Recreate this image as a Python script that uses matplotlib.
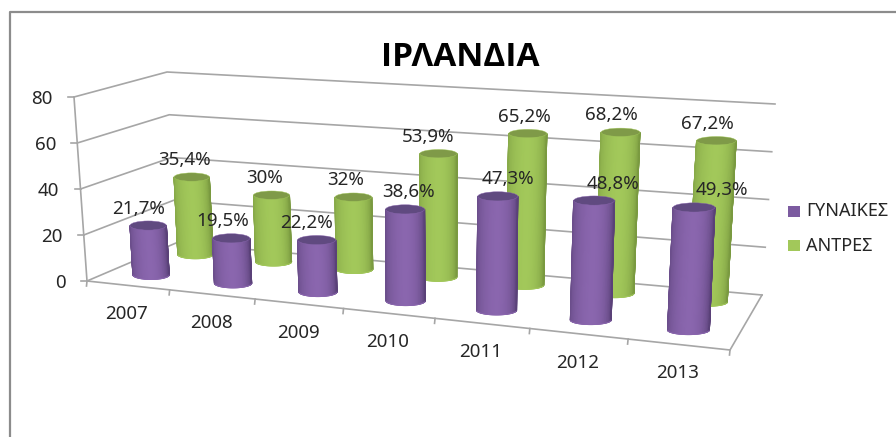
import numpy as np
import matplotlib
matplotlib.use('Agg')
import matplotlib.pyplot as plt
from matplotlib.colors import LinearSegmentedColormap
from matplotlib.patches import Ellipse, Rectangle

plt.rcParams['font.family'] = ['Noto Sans', 'DejaVu Sans']

years = ['2007', '2008', '2009', '2010', '2011', '2012', '2013']
women = [21.7, 19.5, 22.2, 38.6, 47.3, 48.8, 49.3]
men = [35.4, 30, 32, 53.9, 65.2, 68.2, 67.2]
women_labels = ['21,7%', '19,5%', '22,2%', '38,6%', '47,3%', '48,8%', '49,3%']
men_labels = ['35,4%', '30%', '32%', '53,9%', '65,2%', '68,2%', '67,2%']
y_ticks = [0, 20, 40, 60, 80]

# label nudges, px from the top of each cylinder
women_dx = [-10, -9, -10, 3, 10, 19, 28]
men_dx = [-7, -7, -8, -10, -3, -9, -9]

PURPLE_LIGHT, PURPLE_DARK, PURPLE_TOP = '#8a66ae', '#5a4178', '#604a80'
GREEN_LIGHT, GREEN_DARK, GREEN_TOP = '#a2c85a', '#7a9a40', '#7f9a48'
GRID = '#a6a6a6'
TEXT = '#262626'

# corners of the plot box in pixels, floor and value 80
FL, FR, BR, BL = np.array([87, 281.]), np.array([730, 350.]), np.array([762, 295.]), np.array([176, 243.])
FL_T, FR_T, BR_T, BL_T = np.array([74, 97.]), np.array([740, 146.]), np.array([775, 104.]), np.array([167, 72.])


def warp(u):
    # perspective along the category axis
    s = u / len(years)
    return 0.885 * s / (1 - 0.115 * s)


def project(u, d, v):
    t = warp(u)
    floor = (1 - d) * ((1 - t) * FL + t * FR) + d * ((1 - t) * BL + t * BR)
    top = (1 - d) * ((1 - t) * FL_T + t * FR_T) + d * ((1 - t) * BL_T + t * BR_T)
    return floor + (top - floor) * v / 80


def cylinder(u, d, v, light, dark, top_col, w, h, z):
    p0 = project(u, d, 0)
    p1 = project(u, d, v)
    angles = np.linspace(np.pi, 0, 61)
    X = np.array([p0[0] + w * np.cos(angles), p1[0] + w * np.cos(angles)])
    Y = np.array([p0[1] + h * np.sin(angles), p1[1] + h * np.sin(angles)])
    # light falls slightly left of centre, right edge is the darkest
    k = (1 - np.sin(angles) ** 1.3) * (0.825 + 0.175 * np.cos(angles))
    cmap = LinearSegmentedColormap.from_list('shade', [light, dark])
    ax.pcolormesh(X, Y, np.array([k, k]), cmap=cmap, vmin=0, vmax=1, shading='gouraud', zorder=z)
    # thin outline to smooth the mesh edge
    ax.plot(X[0], Y[0], color=light, lw=0.7, zorder=z)
    ax.plot(X[:, 0], Y[:, 0], color=cmap(k[0]), lw=0.7, zorder=z)
    ax.plot(X[:, -1], Y[:, -1], color=dark, lw=0.7, zorder=z)
    ax.add_patch(Ellipse(p1, 2 * w, 2 * h, fc=top_col, ec=light, lw=0.3, zorder=z + 0.1))
    return p1


fig = plt.figure(figsize=(8.96, 4.37), dpi=100)
ax = fig.add_axes([0, 0, 1, 1])

# chart frame
ax.plot([10, 10, 896], [437, 12, 12], color='#8c8c8c', lw=1.6, zorder=1)

# walls, one line per tick
for v in y_ticks:
    a, b, c = project(0, 0, v), project(0, 1, v), project(len(years), 1, v)
    ax.plot([a[0], b[0], c[0]], [a[1], b[1], c[1]], color=GRID, lw=1.2, zorder=2)
    ax.plot([a[0] - 6, a[0]], [a[1], a[1]], color=GRID, lw=1.2, zorder=2)
    ax.text(a[0] - 21, a[1] + 1.5, str(v), ha='right', va='center', fontsize=13.5, color=TEXT)

# vertical edge of the left wall and the floor
a, b = project(0, 0, 0), project(0, 0, 80)
ax.plot([a[0], b[0]], [a[1], b[1]], color=GRID, lw=1.2, zorder=2)
a, b, c = project(0, 0, 0), project(len(years), 0, 0), project(len(years), 1, 0)
ax.plot([a[0], b[0], c[0]], [a[1], b[1], c[1]], color=GRID, lw=1.2, zorder=2)

# category ticks and labels
for i in range(len(years) + 1):
    p = project(i, 0, 0)
    ax.plot([p[0], p[0] - 0.5], [p[1], p[1] + 5], color=GRID, lw=1.2, zorder=2)
for i, y in enumerate(years):
    p = project(i + 0.5, 0, 0)
    ax.text(p[0] - 1, p[1] + 29, y, ha='center', va='center', fontsize=13.5, color=TEXT)

# back row first, the purple row stands in front of it
tops_men = []
for i, v in enumerate(men):
    s = warp(i + 0.5)
    tops_men.append(cylinder(i + 0.5, 0.79, v, GREEN_LIGHT, GREEN_DARK, GREEN_TOP, 17.5 + 2.5 * s, 4.2, 5 + i * 0.2))
tops_women = []
for i, v in enumerate(women):
    s = warp(i + 0.5)
    tops_women.append(cylinder(i + 0.5, 0.27, v, PURPLE_LIGHT, PURPLE_DARK, PURPLE_TOP, 18 + 3.2 * s, 4.6, 8 + i * 0.2))

for p, lab, dx in zip(tops_men, men_labels, men_dx):
    ax.text(p[0] + dx, p[1] - 17, lab, ha='center', va='center', fontsize=13.5, color=TEXT, zorder=20)
for p, lab, dx in zip(tops_women, women_labels, women_dx):
    ax.text(p[0] + dx, p[1] - 17, lab, ha='center', va='center', fontsize=13.5, color=TEXT, zorder=20)

ax.text(460, 58, 'ΙΡΛΑΝΔΙΑ', ha='center', va='center', fontsize=24, fontweight='bold',
        family=['Open Sans', 'DejaVu Sans'], color='black')

# legend
ax.add_patch(Rectangle((788, 206), 12, 11, fc='#7c5ba0', ec='none'))
ax.add_patch(Rectangle((788, 240), 12, 11, fc=GREEN_LIGHT, ec='none'))
ax.text(806, 211, 'ΓΥΝΑΙΚΕΣ', ha='left', va='center', fontsize=13, color=TEXT)
ax.text(806, 246, 'ΑΝΤΡΕΣ', ha='left', va='center', fontsize=13, color=TEXT)

ax.set_xlim(0, 896)
ax.set_ylim(437, 0)
ax.axis('off')

fig.savefig('out.png', dpi=100)
